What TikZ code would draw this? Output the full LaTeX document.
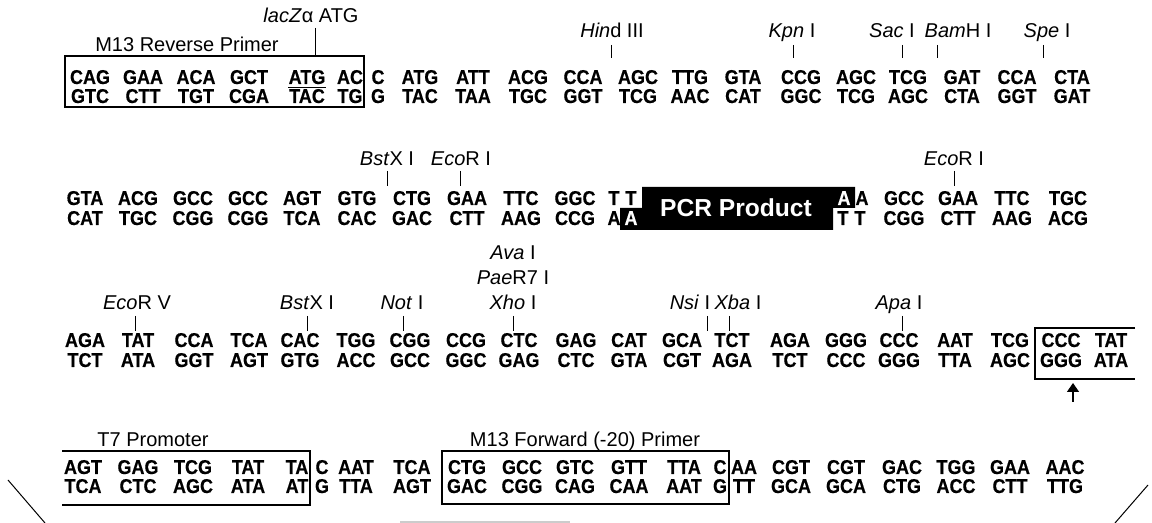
\documentclass[tikz,border=0pt]{standalone}
\usepackage{fontspec}
\setmainfont{Liberation Sans}
\newfontfamily\seqfont{Liberation Sans Bold}[FakeStretch=0.9,FakeBold=0.4]
\usetikzlibrary{arrows.meta,positioning}

\begin{document}
\begin{tikzpicture}[x=0.5pt,y=-0.5pt,
  seq/.style={anchor=base,inner sep=0pt,font=\seqfont\fontsize{10}{11}\selectfont},
  inv/.style={seq,text=white},
  lbl/.style={anchor=base,inner sep=0pt,font=\fontsize{10}{11}\selectfont},
  tick/.style={line width=0.5pt},
  frame/.style={line width=0.65pt}]
\path[use as bounding box] (0,0) rectangle (1152,523);

% row 1
\node[lbl] (lacz) at (311,23) {\textit{lacZ}α ATG};
\node[lbl] (mrev) at (187,52) {M13 Reverse Primer};
\node[lbl] (hind) at (612,38) {\textit{Hin}d III};
\node[lbl] (kpn) at (792,38) {\textit{Kpn} I};
\node[lbl] (sac) at (892,38) {\textit{Sac} I};
\node[lbl] (bam) at (958,38) {\textit{Bam}H I};
\node[lbl] (spe) at (1047,38) {\textit{Spe} I};
\foreach \x/\s [count=\i] in {90/CAG,143/GAA,196/ACA,249/GCT,307/ATG,350/AC,378/C,420/ATG,
  473/ATT,528/ACG,583/CCA,638/AGC,690/TTG,743/GTA,801/CCG,856/AGC,908/TCG,962/GAT,1017/CCA,1072/CTA}
  \node[seq] (a\i) at (\x,84) {\s};
\foreach \x/\s [count=\i] in {90/GTC,143/CTT,196/TGT,249/CGA,307/TAC,350/TG,378/G,420/TAC,
  473/TAA,528/TGC,583/GGT,638/TCG,690/AAC,743/CAT,801/GGC,856/TCG,908/AGC,962/CTA,1017/GGT,1072/GAT}
  \node[seq] (b\i) at (\x,103) {\s};
\draw[tick] ([yshift=-1.6pt]a5.base west) -- ([yshift=-1.6pt]a5.base east);
\draw[frame] (65,56) rectangle (364,107);
\coordinate (lacza) at (315,28); \coordinate (laczb) at (315,56);
\draw[tick] (lacza) -- (laczb);
\foreach \x/\n in {611/hind,793/kpn,902/sac,937/bam,1043/spe} {
  \coordinate (\n a) at (\x,45); \coordinate (\n b) at (\x,58);
  \draw[tick] (\n a) -- (\n b);
}

% row 2
\node[lbl] (bstx) at (387,166) {\textit{Bst}X I};
\node[lbl] (ecoa) at (461,166) {\textit{Eco}R I};
\node[lbl] (ecob) at (954,166) {\textit{Eco}R I};
\foreach \x/\n in {387/bstx,460/ecoa,954/ecob} {
  \coordinate (\n a) at (\x,171); \coordinate (\n b) at (\x,186);
  \draw[tick] (\n a) -- (\n b);
}
\fill (620,208) -- (642,208) -- (642,187) -- (855,187) -- (855,208) -- (833,208)
  -- (833,230) -- (620,230) -- cycle;
\node[inner sep=0pt,text=white,font=\bfseries\fontsize{12.3}{13}\selectfont] (pcr) at (736,208) {PCR Product};
\foreach \x/\s [count=\i] in {85/GTA,138/ACG,193/GCC,248/GCC,302/AGT,357/GTG,412/CTG,467/GAA,
  521/TTC,575/GGC,614/T,631/T,862/A,904/GCC,958/GAA,1012/TTC,1068/TGC}
  \node[seq] (c\i) at (\x,205) {\s};
\node[inv] (cw) at (844,205) {A};
\foreach \x/\s [count=\i] in {85/CAT,138/TGC,193/CGG,248/CGG,302/TCA,357/CAC,412/GAC,467/CTT,
  521/AAG,575/CCG,614/A,843/T,860/T,904/CGG,958/CTT,1012/AAG,1068/ACG}
  \node[seq] (d\i) at (\x,225) {\s};
\node[inv] (dw) at (631,225) {A};

% row 3
\node[lbl] (ecov) at (137,310) {\textit{Eco}R V};
\node[lbl] (bstxb) at (307,310) {\textit{Bst}X I};
\node[lbl] (not) at (402,310) {\textit{Not} I};
\node[lbl] (ava) at (513,260) {\textit{Ava} I};
\node[lbl] (pae) at (513,285) {\textit{Pae}R7 I};
\node[lbl] (xho) at (513,310) {\textit{Xho} I};
\node[lbl] (nsi) at (690,310) {\textit{Nsi} I};
\node[lbl] (xba) at (738,310) {\textit{Xba} I};
\node[lbl] (apa) at (899,310) {\textit{Apa} I};
\foreach \x/\n in {135/ecov,307/bstxb,403/not,513/xho,707/nsi,729/xba,902/apa} {
  \coordinate (\n a) at (\x,316); \coordinate (\n b) at (\x,331);
  \draw[tick] (\n a) -- (\n b);
}
\foreach \x/\s [count=\i] in {85/AGA,138/TAT,194/CCA,249/TCA,300/CAC,356/TGG,410/CGG,466/CCG,
  519/CTC,576/GAG,629/CAT,682/GCA,732/TCT,790/AGA,846/GGG,899/CCC,955/AAT,1010/TCG,1061/CCC,1111/TAT}
  \node[seq] (e\i) at (\x,347) {\s};
\foreach \x/\s [count=\i] in {85/TCT,138/ATA,194/GGT,249/AGT,300/GTG,356/ACC,410/GCC,466/GGC,
  519/GAG,576/CTC,629/GTA,682/CGT,732/AGA,790/TCT,846/CCC,899/GGG,955/TTA,1010/AGC,1061/GGG,1111/ATA}
  \node[seq] (f\i) at (\x,367) {\s};
\draw[frame] (1135,328) -- (1035,328) -- (1035,379) -- (1135,379);
\coordinate (tssa) at (1073,402); \coordinate (tssb) at (1073,383);
\draw[line width=0.7pt,-{Triangle[length=4.5pt,width=6pt]}] (tssa) -- (tssb);

% row 4
\node[lbl] (tsev) at (153,447) {T7 Promoter};
\node[lbl] (mfwd) at (585,447) {M13 Forward (-20) Primer};
\foreach \x/\s [count=\i] in {83/AGT,138/GAG,193/TCG,248/TAT,297/TA,322/C,356/AAT,412/TCA,467/CTG,
  522/GCC,575/GTC,629/GTT,684/TTA,720/C,744/AA,791/CGT,846/CGT,902/GAC,956/TGG,1010/GAA,1065/AAC}
  \node[seq] (g\i) at (\x,474) {\s};
\foreach \x/\s [count=\i] in {83/TCA,138/CTC,193/AGC,248/ATA,297/AT,322/G,356/TTA,412/AGT,467/GAC,
  522/CGG,575/CAG,629/CAA,684/AAT,720/G,744/TT,791/GCA,846/GCA,902/CTG,956/ACC,1010/CTT,1065/TTG}
  \node[seq] (h\i) at (\x,493) {\s};
\draw[frame] (62,451) -- (310,451) -- (310,505) -- (62,505);
\draw[frame] (442,451) rectangle (729,504);

% edges
\draw[tick] (8,480) -- (45,523);
\draw[tick] (1148,485) -- (1115,523);
\draw[gray!40,line width=0.6pt] (400,522) -- (570,522);
\end{tikzpicture}
\end{document}
